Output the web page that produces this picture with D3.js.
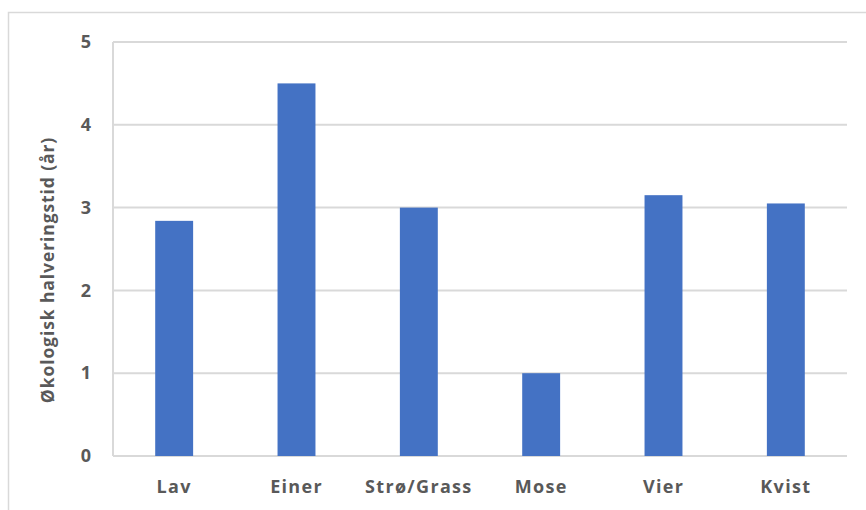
<!DOCTYPE html>
<html>
<head>
<meta charset="utf-8">
<script src="https://cdn.jsdelivr.net/npm/d3@7/dist/d3.min.js"></script>
<style>
  html, body { margin: 0; padding: 0; background: #fff; }
  svg { display: block; }
  text { font-family: "Open Sans", "DejaVu Sans", sans-serif; font-weight: 700; fill: #595959; }
</style>
</head>
<body>
<svg id="chart" width="866" height="510"></svg>
<script>
// Ecological half-life per vegetation type
const categories = ["Lav", "Einer", "Strø/Grass", "Mose", "Vier", "Kvist"];
const values = [2.84, 4.5, 3.0, 1.0, 3.15, 3.05];
const yTicks = [0, 1, 2, 3, 4, 5];
const yTitle = "Økologisk halveringstid (år)";

const W = 866, H = 510;
const margin = { left: 113, right: 19, top: 42, bottom: 54 };
const svg = d3.select("#chart");

// outer chart frame
svg.append("rect")
  .attr("x", 8.5).attr("y", 12.5)
  .attr("width", W + 20).attr("height", H + 20)
  .attr("fill", "none").attr("stroke", "#d9d9d9").attr("stroke-width", 1.5);

const x = d3.scaleBand()
  .domain(categories)
  .range([margin.left, W - margin.right])
  .paddingInner(0.69).paddingOuter(0.345);

const y = d3.scaleLinear()
  .domain([0, 5])
  .range([H - margin.bottom, margin.top]);

// horizontal gridlines
svg.append("g")
  .selectAll("line")
  .data(yTicks.filter(t => t > 0))
  .join("line")
  .attr("x1", margin.left).attr("x2", W - margin.right)
  .attr("y1", d => y(d)).attr("y2", d => y(d))
  .attr("stroke", "#d9d9d9").attr("stroke-width", 2);

// left and bottom axis lines
svg.append("line")
  .attr("x1", margin.left).attr("x2", margin.left)
  .attr("y1", y(5)).attr("y2", y(0))
  .attr("stroke", "#d9d9d9").attr("stroke-width", 2);
svg.append("line")
  .attr("x1", margin.left).attr("x2", W - margin.right)
  .attr("y1", y(0)).attr("y2", y(0))
  .attr("stroke", "#d9d9d9").attr("stroke-width", 2);

// bars
svg.append("g")
  .selectAll("rect")
  .data(values)
  .join("rect")
  .attr("x", (d, i) => x(categories[i]))
  .attr("width", x.bandwidth())
  .attr("y", d => y(d))
  .attr("height", d => y(0) - y(d))
  .attr("fill", "#4472c4");

// y axis tick labels
const yAxis = d3.axisLeft(y).tickValues(yTicks).tickFormat(d3.format("d")).tickSize(0).tickPadding(22);
const gy = svg.append("g").attr("transform", `translate(${margin.left},0)`).call(yAxis);
gy.select(".domain").remove();
gy.selectAll("text").attr("font-size", 18).attr("fill", "#595959")
  .style("font-family", "'Open Sans', sans-serif").style("font-weight", 700);

// x axis category labels
const xAxis = d3.axisBottom(x).tickSize(0).tickPadding(24);
const gx = svg.append("g").attr("transform", `translate(0,${y(0)})`).call(xAxis);
gx.select(".domain").remove();
gx.selectAll("text").attr("font-size", 18).attr("fill", "#595959")
  .style("font-family", "'Open Sans', sans-serif").style("font-weight", 700)
  .style("letter-spacing", "1.3px");

// y axis title
svg.append("text")
  .attr("transform", `translate(54,${(y(0) + y(5)) / 2 + 21}) rotate(-90)`)
  .attr("text-anchor", "middle")
  .attr("font-size", 17.5)
  .style("letter-spacing", "0.9px")
  .text(yTitle);
</script>
</body>
</html>
